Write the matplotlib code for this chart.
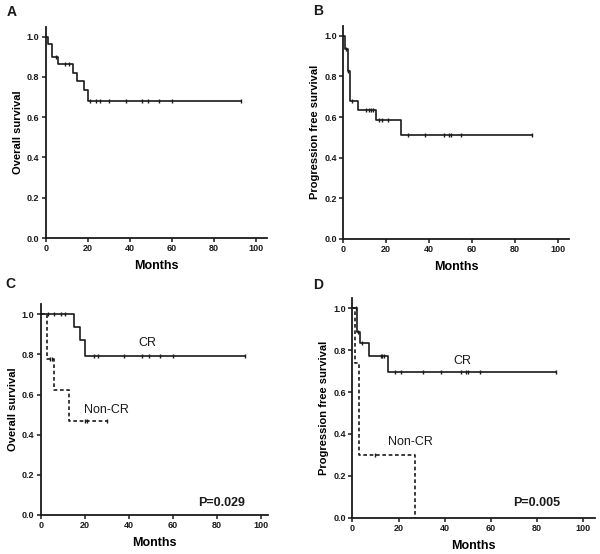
import numpy as np
import matplotlib
matplotlib.use("Agg")
import matplotlib.pyplot as plt

plt.rcParams['font.family'] = ['Liberation Sans', 'DejaVu Sans']

# ---------------- data ----------------
A_times = [0, 1, 3, 6, 13, 15, 18, 20, 93]
A_surv = [1.0, 0.966, 0.90, 0.862, 0.82, 0.78, 0.735, 0.68, 0.68]
A_cens = [5, 9, 11, 21, 24, 26, 30, 38, 46, 48.5, 54, 60, 93]

B_times = [0, 0.8, 2, 3, 7, 15, 27, 88]
B_surv = [1.0, 0.935, 0.826, 0.677, 0.636, 0.585, 0.51, 0.51]
B_cens = [1.2, 2.3, 4.2, 10.5, 12.1, 12.9, 13.7, 16.4, 17.8, 21, 30, 38, 47, 49.2, 50.2, 55, 88]

C_cr_times = [0, 15, 18, 20, 93]
C_cr_surv = [1.0, 0.938, 0.872, 0.794, 0.794]
C_cr_cens = [3.5, 6, 9, 11, 24, 26, 38, 46, 49, 54, 60, 93]
C_non_times = [0, 3, 6, 13, 30]
C_non_surv = [1.0, 0.778, 0.622, 0.467, 0.467]
C_non_cens = [4, 5.3, 20, 21, 30]

D_cr_times = [0, 2.2, 3.3, 7.2, 15.3, 88]
D_cr_surv = [1.0, 0.885, 0.833, 0.774, 0.697, 0.697]
D_cr_cens = [1.6, 2.6, 4.1, 12.3, 13, 13.7, 18.5, 21, 30.5, 38.3, 47, 49.2, 50, 55.3, 88]
D_non_times = [0, 1.2, 3, 27]
D_non_surv = [1.0, 0.74, 0.30, 0.0]
D_non_cens = [10]

panel_letters = ["A", "B", "C", "D"]
y_labels = ["Overall survival", "Progression free survival",
            "Overall survival", "Progression free survival"]
x_label = "Months"
x_ticks = [0, 20, 40, 60, 80, 100]
y_ticks = [0.0, 0.2, 0.4, 0.6, 0.8, 1.0]
p_values = ["P=0.029", "P=0.005"]

W, H = 600, 554
fig = plt.figure(figsize=(W / 100, H / 100), dpi=100)
col = '#1a1a1a'


def add_ax(x0, y0, px_per_x, y1, xmax, ymax=1.05):
    # x0: pixel of x=0, y0: pixel of y=0, y1: pixel of y=1.0
    py = (y0 - y1)
    left = x0 / W
    width = px_per_x * xmax / W
    bottom = (H - y0) / H
    height = py * ymax / H
    ax = fig.add_axes([left, bottom, width, height])
    ax.set_xlim(0, xmax)
    ax.set_ylim(0, ymax)
    for s in ['top', 'right']:
        ax.spines[s].set_visible(False)
    for s in ['left', 'bottom']:
        ax.spines[s].set_linewidth(1.3)
        ax.spines[s].set_color(col)
    ax.set_xticks(x_ticks)
    ax.set_yticks(y_ticks)
    ax.set_yticklabels([f"{v:.1f}" for v in y_ticks])
    ax.tick_params(direction='out', length=3, width=1.1, colors=col,
                   labelsize=6.5, pad=1.5)
    for lab in ax.get_xticklabels() + ax.get_yticklabels():
        lab.set_fontweight('bold')
    ax.set_xlabel(x_label, fontsize=9, fontweight='bold', labelpad=5)
    return ax


def km(ax, times, surv, cens, ls='-'):
    t = np.asarray(times, float)
    s = np.asarray(surv, float)
    if ls == '-':
        ax.step(t, s, where='post', color=col, lw=1.2, clip_on=False)
    else:
        ax.step(t, s, where='post', color=col, lw=1.2, linestyle=(0, (2.2, 1.6)),
                clip_on=False)
    c = np.asarray(cens, float)
    idx = np.searchsorted(t, c, side='right') - 1
    ax.plot(c, s[idx], linestyle='none', marker='|', markersize=3.5,
            markeredgewidth=1.0, color=col, clip_on=False)


axA = add_ax(45.7, 238, 2.103, 36.7, 105.2)
axB = add_ax(343.3, 239, 2.147, 35.7, 105.1)
axC = add_ax(40.7, 515, 2.2, 314.3, 103.5)
axD = add_ax(352.3, 517.7, 2.31, 308.3, 105.0)

km(axA, A_times, A_surv, A_cens)
km(axB, B_times, B_surv, B_cens)
km(axC, C_cr_times, C_cr_surv, C_cr_cens)
km(axC, C_non_times, C_non_surv, C_non_cens, ls='--')
km(axD, D_cr_times, D_cr_surv, D_cr_cens)
km(axD, D_non_times, D_non_surv, D_non_cens, ls='--')

for ax, yl in zip([axA, axB, axC, axD], y_labels):
    ax.set_ylabel(yl, fontsize=8, fontweight='bold', labelpad=3)

axC.text(48.6, 0.855, "CR", fontsize=9, ha='center', va='center', color=col)
axC.text(29.7, 0.523, "Non-CR", fontsize=9, ha='center', va='center', color=col)
axC.text(82.3, 0.058, p_values[0], fontsize=9, fontweight='bold', ha='center', va='center', color=col)
axD.text(47.6, 0.748, "CR", fontsize=9, ha='center', va='center', color=col)
axD.text(25, 0.363, "Non-CR", fontsize=9, ha='center', va='center', color=col)
axD.text(80, 0.069, p_values[1], fontsize=9, fontweight='bold', ha='center', va='center', color=col)

letter_pos = [(12, 12), (318, 11), (10, 284), (318, 285)]
for L, (px, py) in zip(panel_letters, letter_pos):
    fig.text(px / W, 1 - py / H, L, fontsize=10, fontweight='bold', ha='center', va='center', color=col)

fig.savefig("out.png", dpi=100)
